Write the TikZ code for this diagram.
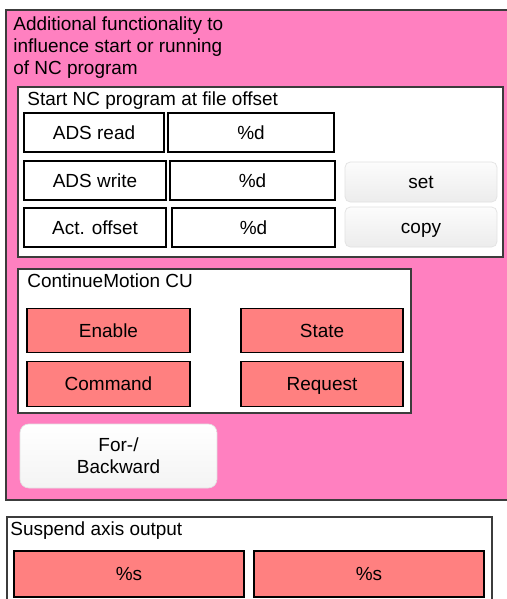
\documentclass[tikz,border=0pt]{standalone}
\usepackage{fontspec}
\setmainfont{Liberation Sans}
\definecolor{panelpink}{RGB}{255,128,192}
\definecolor{flagred}{RGB}{255,128,128}
\definecolor{frame}{RGB}{60,60,60}
\definecolor{btntop}{RGB}{252,252,252}
\definecolor{btnbot}{RGB}{236,236,236}
\definecolor{btnedge}{RGB}{226,226,226}
\tikzset{
  group/.style={draw=frame, line width=0.6pt},
  caption/.style={anchor=base west, inner sep=0pt},
  label/.style={text height=7.8pt, text depth=0pt},
  field/.style={draw=black, line width=0.8pt, fill=white, inner sep=0pt, label, minimum height=0.78cm},
  flag/.style={field, fill=flagred, minimum height=0.89cm},
  button/.style={draw=btnedge, line width=0.4pt, top color=btntop, bottom color=btnbot,
    rounded corners=3pt, inner sep=0pt, minimum height=0.8cm}
}
\begin{document}
\begin{tikzpicture}[x=0.02cm, y=-0.02cm, font=\fontsize{10.8}{12.6}\selectfont]
  \useasboundingbox (0,0) rectangle (507,599);
  \fill[white] (0,0) rectangle (507,599);

  % pink panel
  \draw[group, fill=panelpink] (6,10) rectangle (515,500);
  \node[caption, anchor=north west, align=left] (paneltitle) at (13,16)
    {Additional functionality to\\influence start or running\\of NC program};

  % file offset group
  \draw[group, fill=white] (18,87) rectangle (503,257);
  \node[caption] (offsettitle) at (27,105) {Start NC program at file offset};
  \node[field, minimum width=2.8cm]  (adsread)   at (94,132.5)  {ADS read};
  \node[field, minimum width=3.32cm] (readval)   at (251,132.5) {\%d};
  \node[field, minimum width=2.84cm] (adswrite)  at (95,180.5)  {ADS write};
  \node[field, minimum width=3.3cm]  (writeval)  at (252.5,180.5) {\%d};
  \node[field, minimum width=2.84cm] (actoffset) at (95,227.5)  {Act. offset};
  \node[field, minimum width=3.26cm] (actval)    at (253.5,227.5) {\%d};
  \node[button, label, minimum width=3.04cm] (setbtn)  at (421,182) {set};
  \node[button, label, minimum width=3.04cm] (copybtn) at (421,227) {copy};

  % ContinueMotion group
  \draw[group, fill=white] (18,269) rectangle (411,413);
  \node[caption] (cutitle) at (27,287) {ContinueMotion CU};
  \node[flag, minimum width=3.26cm] (enable)  at (108.5,330.5) {Enable};
  \node[flag, minimum width=3.24cm] (state)   at (322,330.5)   {State};
  \node[flag, minimum width=3.26cm] (command) at (108.5,384)   {Command};
  \node[flag, minimum width=3.24cm] (request) at (322,384)     {Request};

  \node[button, align=center, rounded corners=5pt, minimum width=3.94cm, minimum height=1.28cm,
    top color=white, bottom color=btnbot!60!white] (direction) at (118.5,456) {For-/\\Backward};

  % axis output group
  \draw[group, fill=white] (7,517) rectangle (492,610);
  \node[caption] (suspendtitle) at (10,535) {Suspend axis output};
  \node[flag, minimum width=4.6cm, minimum height=0.92cm] (axisleft)  at (129,574) {\%s};
  \node[flag, minimum width=4.6cm, minimum height=0.92cm] (axisright) at (369,574) {\%s};
\end{tikzpicture}
\end{document}
